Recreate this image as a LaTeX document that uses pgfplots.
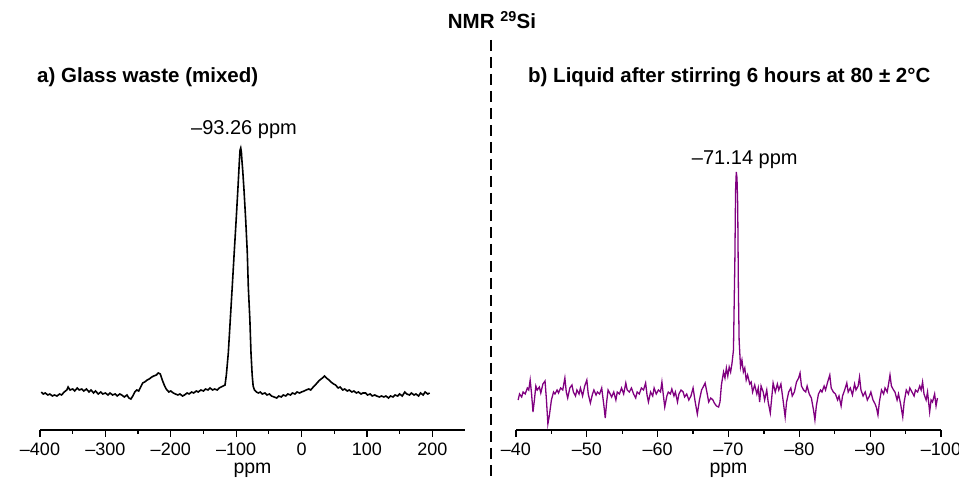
\documentclass[border=0pt]{standalone}
\usepackage{fontspec}
\setmainfont{Liberation Sans}
\usepackage{pgfplots}
\pgfplotsset{compat=1.18}
\begin{document}
\begin{tikzpicture}
\useasboundingbox (0pt,0pt) rectangle (959pt,478pt);
\pgfplotsset{
  every axis/.append style={
    scale only axis, width=425pt, height=400pt, ymin=0, ymax=400,
    axis x line*=bottom, axis y line=none, clip=false,
    axis line style={line width=1.6pt},
    tick align=outside, major tick length=7pt, minor tick length=4pt,
    every tick/.style={line width=1.3pt, black},
    minor x tick num=1,
    xticklabel style={font=\fontsize{18}{20}\selectfont, anchor=base, yshift=-19pt},
    xlabel style={font=\fontsize{19.5}{22}\selectfont, at={(0.5,0)}, anchor=base, yshift=-44pt},
    xlabel={ppm},
    anchor=south west,
  }
}
\begin{axis}[at={(40pt,48pt)}, xmin=-400, xmax=250,
  xtick={-400,-300,-200,-100,0,100,200},
  xticklabels={–400,–300,–200,–100,0,100,200}]
\addplot[black, line width=1.6pt] coordinates {
(-398,38) (-395,36) (-392,37) (-388,35) (-385,36) (-381,34) (-378,35) (-374,34)
(-370,36) (-367,35) (-363,38) (-359,40) (-357,43) (-354,40) (-350,41) (-347,39)
(-343,42) (-340,40) (-336,41) (-333,39) (-329,41) (-325,38) (-322,40) (-318,37)
(-315,39) (-311,36) (-307,38) (-304,36) (-300,37) (-296,35) (-293,37) (-289,35)
(-285,36) (-282,34) (-278,36) (-275,35) (-271,33) (-267,35) (-264,32) (-261,31)
(-258,34) (-255,38) (-252,40) (-249,39) (-246,43) (-243,47) (-240,48) (-236,50)
(-233,51) (-229,53) (-226,54) (-222,55) (-219,57) (-216,56) (-213,50) (-210,45)
(-207,41) (-203,38) (-200,39) (-196,37) (-193,36) (-189,35) (-186,36) (-182,34)
(-179,35) (-175,37) (-172,36) (-168,38) (-165,37) (-161,39) (-158,38) (-154,40)
(-150,39) (-147,41) (-143,40) (-140,42) (-136,40) (-133,41) (-129,40) (-126,42)
(-123,43) (-120,44) (-117,45) (-115,55) (-112,77) (-109,110) (-106,143) (-103,177)
(-100,210) (-97,245) (-95,270) (-94,280) (-93,282) (-92,278) (-91,268) (-90,260)
(-88,240) (-85.4,210) (-83,178) (-81.4,143) (-79,110) (-77.3,77) (-75.5,55) (-74,44)
(-72,40) (-69,38) (-66,37) (-63,38) (-60,36) (-56,37) (-53,35) (-49,36)
(-46,34) (-42,33) (-38,32) (-35,34) (-31,33) (-28,35) (-24,34) (-21,36)
(-17,35) (-14,37) (-10,36) (-7,38) (-3,37) (0,38) (4,39) (7,40)
(11,41) (14,40) (18,43) (21,45) (25,48) (28,50) (32,52) (35,54)
(38,52) (42,50) (45,48) (49,46) (52,45) (56,42) (59,43) (63,40)
(66,41) (70,39) (73,40) (77,38) (80,39) (84,37) (87,38) (91,36)
(94,37) (98,37) (101,35) (105,36) (108,34) (112,35) (115,34) (119,33)
(122,34) (126,33) (129,34) (133,32) (136,34) (140,33) (143,35) (147,34)
(150,36) (154,34) (158,38) (161,36) (165,35) (168,37) (172,35) (175,36)
(179,34) (182,37) (186,35) (189,38) (193,36) (196,37)
};
\node[anchor=base, font=\fontsize{20}{24}\selectfont] at (axis cs:-88,295) {–93.26 ppm};
\end{axis}
\begin{axis}[at={(516pt,48pt)}, xmin=-100, xmax=-40, x dir=reverse,
  xtick={-100,-90,-80,-70,-60,-50,-40},
  xticklabels={–100,–90,–80,–70,–60,–50,–40}]
\addplot[color={rgb,255:red,128;green,0;blue,128}, line width=1.3pt] coordinates {
(-40.3,30) (-40.5,36) (-40.8,33) (-41.0,38) (-41.3,36) (-41.6,42) (-41.8,40) (-42.0,50)
(-42.2,36) (-42.4,18) (-42.6,30) (-42.8,44) (-43.0,40) (-43.3,43) (-43.5,37) (-43.8,46)
(-44.1,49) (-44.3,30) (-44.5,6) (-44.7,14) (-45.0,30) (-45.3,38) (-45.5,36) (-45.8,40)
(-46.0,37) (-46.3,42) (-46.6,40) (-46.9,52) (-47.1,38) (-47.3,32) (-47.6,42) (-47.9,45)
(-48.1,38) (-48.4,34) (-48.6,40) (-48.9,36) (-49.1,42) (-49.4,34) (-49.7,44) (-50.0,50)
(-50.2,36) (-50.5,27) (-50.8,36) (-51.0,40) (-51.3,35) (-51.5,38) (-51.8,36) (-52.1,42)
(-52.4,25) (-52.6,12) (-52.8,28) (-53.0,40) (-53.3,36) (-53.5,33) (-53.8,38) (-54.1,30)
(-54.3,38) (-54.6,36) (-54.9,42) (-55.2,36) (-55.5,47) (-55.7,40) (-56.0,38) (-56.3,42)
(-56.6,36) (-56.9,32) (-57.1,38) (-57.4,36) (-57.7,42) (-58.0,40) (-58.3,47) (-58.5,35)
(-58.7,28) (-59.0,38) (-59.3,34) (-59.5,42) (-59.8,36) (-60.1,40) (-60.4,38) (-60.6,48)
(-60.8,35) (-61.0,23) (-61.3,34) (-61.5,38) (-61.8,36) (-62.0,41) (-62.3,34) (-62.5,38)
(-62.8,28) (-63.0,36) (-63.3,40) (-63.6,38) (-63.8,33) (-64.1,36) (-64.4,30) (-64.7,34)
(-65.0,42) (-65.3,28) (-65.6,16) (-65.9,30) (-66.2,40) (-66.5,44) (-66.7,47) (-67.0,36)
(-67.2,28) (-67.5,32) (-67.8,30) (-68.0,27) (-68.3,24) (-68.6,23) (-68.8,28) (-69.0,45)
(-69.3,58) (-69.5,52) (-69.7,62) (-69.9,54) (-70.1,63) (-70.3,58) (-70.5,67) (-70.7,80)
(-70.9,170) (-71.0,240) (-71.1,258) (-71.2,252) (-71.3,225) (-71.4,140) (-71.5,90) (-71.7,63)
(-71.9,70) (-72.1,58) (-72.3,62) (-72.5,50) (-72.7,55) (-73.0,46) (-73.2,48) (-73.4,38)
(-73.7,45) (-74.0,36) (-74.2,42) (-74.4,28) (-74.6,44) (-74.9,38) (-75.1,30) (-75.4,40)
(-75.6,28) (-75.9,17) (-76.1,32) (-76.3,47) (-76.6,38) (-76.9,46) (-77.1,40) (-77.4,46)
(-77.7,30) (-78.0,13) (-78.2,28) (-78.5,38) (-78.8,42) (-79.0,34) (-79.3,38) (-79.6,48)
(-79.9,52) (-80.1,57) (-80.3,44) (-80.6,40) (-80.9,38) (-81.1,44) (-81.4,36) (-81.7,32)
(-82.0,20) (-82.2,10) (-82.4,24) (-82.7,36) (-83.0,40) (-83.2,38) (-83.5,44) (-83.7,40)
(-84.0,48) (-84.3,55) (-84.5,42) (-84.8,38) (-85.1,36) (-85.4,30) (-85.6,34) (-85.9,24)
(-86.1,34) (-86.4,40) (-86.7,47) (-86.9,38) (-87.2,42) (-87.5,35) (-87.8,46) (-88.0,40)
(-88.3,44) (-88.5,53) (-88.7,40) (-89.0,34) (-89.3,38) (-89.6,30) (-89.9,34) (-90.1,38)
(-90.4,30) (-90.7,26) (-90.9,22) (-91.1,15) (-91.3,28) (-91.6,40) (-91.9,36) (-92.1,42)
(-92.4,38) (-92.6,46) (-92.8,55) (-93.0,44) (-93.3,40) (-93.5,38) (-93.8,30) (-94.0,36)
(-94.3,26) (-94.6,13) (-94.8,28) (-95.1,40) (-95.4,36) (-95.6,42) (-95.9,38) (-96.2,34)
(-96.4,40) (-96.7,38) (-97.0,44) (-97.2,40) (-97.4,48) (-97.6,36) (-97.9,30) (-98.1,38)
(-98.4,18) (-98.6,30) (-98.8,28) (-99.1,36) (-99.3,24) (-99.5,32)
};
\node[anchor=base, font=\fontsize{20}{24}\selectfont] at (axis cs:-72.3,265) {–71.14 ppm};
\end{axis}
\draw[line width=2.6pt, dash pattern=on 11pt off 6pt] (491pt,438pt) -- (491pt,0pt);
\node[anchor=base, font=\bfseries\fontsize{20.5}{24}\selectfont] at (492pt,449pt) {NMR \textsuperscript{29}Si};
\node[anchor=base west, font=\bfseries\fontsize{20.5}{24}\selectfont, inner sep=0pt] at (37pt,395pt) {a) Glass waste (mixed)};
\node[anchor=base west, font=\bfseries\fontsize{20.5}{24}\selectfont, inner sep=0pt] at (528pt,395pt) {b) Liquid after stirring 6 hours at 80 ± 2°C};
\end{tikzpicture}
\end{document}
